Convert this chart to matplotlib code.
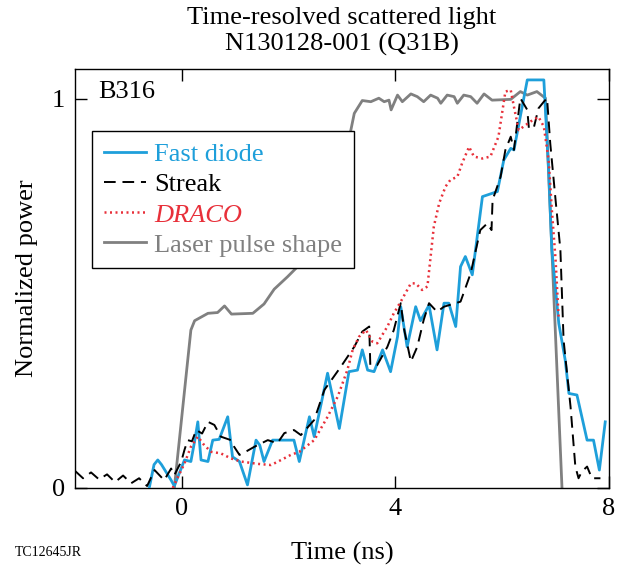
import matplotlib
matplotlib.use("Agg")
import matplotlib.pyplot as plt

plt.rcParams['font.family'] = ['Liberation Serif', 'DejaVu Serif']
plt.rcParams['mathtext.fontset'] = 'stix'

# ---------------- data ----------------
laser_t = [-0.14, 0.17, 0.24, 0.49, 0.67, 0.80, 0.93, 1.33, 1.54, 1.73, 1.98, 2.14, 2.6, 3.0,
           3.16, 3.23, 3.38, 3.54, 3.69, 3.79, 3.88, 3.92, 4.04, 4.13, 4.29, 4.41, 4.53, 4.66,
           4.79, 4.85, 4.97, 5.10, 5.16, 5.28, 5.41, 5.53, 5.66, 5.81, 6.16, 6.34, 6.47, 6.65,
           6.81, 7.12]
laser_p = [0.0, 0.406, 0.43, 0.449, 0.451, 0.468, 0.447, 0.449, 0.473, 0.511, 0.543, 0.565, 0.70, 0.84,
           0.916, 0.963, 0.996, 0.993, 1.002, 0.993, 0.997, 0.972, 1.010, 0.993, 1.013, 1.006, 0.993, 1.010,
           1.002, 0.989, 1.010, 1.006, 0.989, 1.010, 1.006, 0.989, 1.013, 0.997, 0.999, 1.019, 1.010, 1.019,
           1.002, 0.0]

diode_t = [-0.61, -0.52, -0.45, -0.38, -0.29, -0.20, -0.14, 0.05, 0.17, 0.24, 0.30, 0.36, 0.49, 0.58,
           0.70, 0.86, 0.95, 1.08, 1.23, 1.39, 1.46, 1.54, 1.70, 2.10, 2.20, 2.39, 2.48, 2.73, 2.95,
           3.13, 3.29, 3.38, 3.48, 3.60, 3.76, 3.91, 4.04, 4.10, 4.22, 4.38, 4.47, 4.63, 4.78, 4.91,
           5.00, 5.13, 5.22, 5.31, 5.44, 5.63, 5.91, 6.03, 6.16, 6.22, 6.47, 6.78, 6.87, 6.93, 7.06,
           7.18, 7.25, 7.40, 7.59, 7.71, 7.82, 7.93]
diode_p = [0.0, 0.06, 0.072, 0.06, 0.04, 0.02, 0.005, 0.072, 0.068, 0.12, 0.170, 0.072, 0.068, 0.123,
           0.125, 0.183, 0.080, 0.068, 0.008, 0.123, 0.11, 0.068, 0.123, 0.123, 0.068, 0.183, 0.132, 0.295, 0.153,
           0.299, 0.303, 0.355, 0.303, 0.299, 0.355, 0.299, 0.389, 0.466, 0.363, 0.466, 0.430, 0.470, 0.355, 0.475,
           0.475, 0.415, 0.569, 0.595, 0.548, 0.749, 0.762, 0.843, 0.873, 0.869, 1.049, 1.049, 0.817, 0.612, 0.423,
           0.329, 0.243, 0.239, 0.123, 0.123, 0.046, 0.170]

streak_t = [-2.0, -1.85, -1.7, -1.55, -1.4, -1.25, -1.1, -0.95, -0.8, -0.65, -0.51, -0.33, -0.2, -0.14,
            -0.01, 0.05, 0.11, 0.19, 0.27, 0.38, 0.49, 0.61, 0.73, 0.92, 0.98, 1.08, 1.22, 1.36, 1.61,
            1.79, 1.92, 2.10, 2.23, 2.48, 2.67, 2.98, 3.23, 3.38, 3.51, 3.53, 3.66, 3.85, 3.97, 4.10,
            4.16, 4.29, 4.41, 4.53, 4.63, 4.78, 4.91, 5.22, 5.41, 5.59, 5.72, 5.80, 5.82, 5.97, 6.06,
            6.16, 6.22, 6.34, 6.47, 6.50, 6.59, 6.68, 6.78, 6.84, 6.90, 7.00, 7.09, 7.15, 7.28, 7.37,
            7.43, 7.49, 7.59, 7.68, 7.84]
streak_p = [0.044, 0.025, 0.040, 0.022, 0.035, 0.015, 0.032, 0.012, 0.025, 0.005, 0.046, 0.02, 0.05, 0.033,
            0.068, 0.098, 0.123, 0.12, 0.149, 0.14, 0.170, 0.162, 0.132, 0.123, 0.106, 0.085, 0.095, 0.106, 0.123,
            0.115, 0.141, 0.149, 0.136, 0.175, 0.252, 0.312, 0.363, 0.402, 0.415, 0.316, 0.316, 0.363, 0.406, 0.475,
            0.410, 0.325, 0.363, 0.432, 0.475, 0.453, 0.466, 0.479, 0.552, 0.663, 0.680, 0.663, 0.740, 0.800, 0.869,
            0.903, 0.869, 1.002, 0.972, 0.925, 0.925, 0.976, 0.993, 1.002, 0.886, 0.740, 0.612, 0.380, 0.209, 0.055,
            0.025, 0.042, 0.055, 0.025, 0.025]

draco_t = [-0.17, 0.05, 0.17, 0.30, 0.42, 0.55, 0.73, 0.92, 1.11, 1.42, 1.67, 1.86, 2.04, 2.20, 2.48,
           2.73, 2.92, 3.10, 3.20, 3.32, 3.45, 3.57, 3.66, 3.85, 3.97, 4.10, 4.29, 4.38, 4.50, 4.60,
           4.66, 4.72, 4.82, 4.94, 5.03, 5.16, 5.25, 5.38, 5.47, 5.63, 5.78, 5.93, 6.06, 6.16, 6.22,
           6.31, 6.40, 6.53, 6.68, 6.78, 6.87, 6.93, 7.00, 7.06]
draco_p = [0.0, 0.063, 0.106, 0.132, 0.110, 0.093, 0.089, 0.076, 0.068, 0.062, 0.059, 0.072, 0.085, 0.093, 0.123,
           0.183, 0.235, 0.303, 0.355, 0.389, 0.406, 0.376, 0.372, 0.415, 0.449, 0.479, 0.526, 0.526, 0.509, 0.518,
           0.595, 0.672, 0.732, 0.775, 0.792, 0.800, 0.835, 0.877, 0.852, 0.847, 0.852, 0.903, 1.019, 1.023, 0.980,
           0.920, 0.929, 0.942, 0.954, 0.929, 0.843, 0.715, 0.586, 0.432]

x_ticks = [0, 4, 8]
y_ticks = [0, 1]
series_labels = ["Fast diode", "Streak", "DRACO", "Laser pulse shape"]

BLUE = '#1E9FDA'
RED = '#E8303A'
GRAY = '#808080'
FS = 19

# ---------------- figure ----------------
fig = plt.figure(figsize=(6.23, 5.70), dpi=100)
ax = fig.add_axes([0.1204, 0.1439, 0.8571, 0.7350])

l_d, = ax.plot(diode_t, diode_p, color=BLUE, lw=2.0, label=series_labels[0], zorder=3)
l_s, = ax.plot(streak_t, streak_p, color='black', lw=1.4, dashes=(6, 3.5), label=series_labels[1], zorder=4)
l_r, = ax.plot(draco_t, draco_p, color=RED, lw=1.8, linestyle=(0, (0.8, 1.4)), label=series_labels[2], zorder=5)
l_l, = ax.plot(laser_t, laser_p, color=GRAY, lw=2.0, label=series_labels[3], zorder=2)

ax.set_xlim(-2, 8)
ax.set_ylim(0, 1.077)
ax.set_xticks(x_ticks)
ax.set_yticks(y_ticks)
ax.tick_params(direction='in', length=8.5, width=1, top=True, right=True, labelsize=FS, pad=7)
for s in ax.spines.values():
    s.set_linewidth(1.0)

ax.set_xlabel('Time (ns)', fontsize=FS, labelpad=16)
ax.set_ylabel('Normalized power', fontsize=FS, labelpad=10)
ax.set_title('Time-resolved scattered light\nN130128-001 (Q31B)', fontsize=FS, pad=13, linespacing=1.27)

ax.text(0.043, 0.945, 'B316', transform=ax.transAxes, fontsize=FS, va='center', ha='left')

leg = ax.legend(handles=[l_d, l_s, l_r, l_l], loc='upper left', bbox_to_anchor=(0.032, 0.852),
                borderaxespad=0, fontsize=FS, frameon=True, fancybox=False, edgecolor='black',
                framealpha=1.0, handlelength=1.6, handletextpad=0.3, labelspacing=0.25, borderpad=0.45)
leg.get_frame().set_linewidth(1.0)
leg.set_zorder(10)
txt = leg.get_texts()
txt[0].set_color(BLUE)
txt[1].set_color('black')
txt[2].set_color(RED)
txt[2].set_fontstyle('italic')
txt[3].set_color(GRAY)

fig.text(15 / 623, 1 - 553 / 570, 'TC12645JR', fontsize=10, ha='left', va='center')

fig.savefig('out.png', dpi=100)
